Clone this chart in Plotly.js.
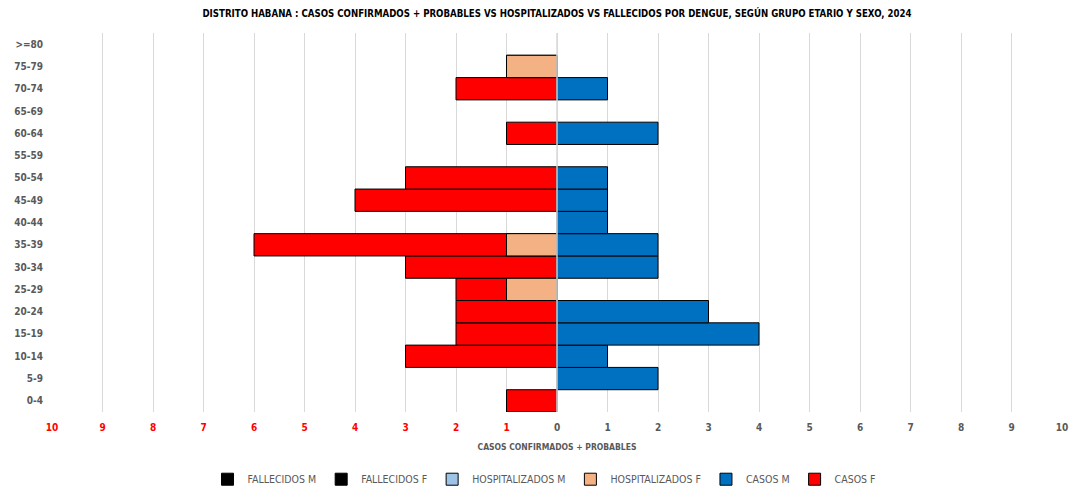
<!DOCTYPE html>
<html>
<head>
<meta charset="utf-8">
<script src="https://cdn.plot.ly/plotly-3.0.1.min.js"></script>
<style>html,body{margin:0;padding:0;background:#fff;}#chart{width:1089px;height:488px;}</style>
</head>
<body>
<div id="chart"></div>
<script>
const ageGroups = ["0-4","5-9","10-14","15-19","20-24","25-29","30-34","35-39","40-44","45-49","50-54","55-59","60-64","65-69","70-74","75-79",">=80"];
const casosF = [1,0,3,2,2,2,3,6,0,4,3,0,1,0,2,1,0];
const casosM = [0,2,1,4,3,0,2,2,1,1,1,0,2,0,1,0,0];
const hospF  = [0,0,0,0,0,1,0,1,0,0,0,0,0,0,0,1,0];
const hospM  = [0,0,0,0,0,0,0,0,0,0,0,0,0,0,0,0,0];
const fallF  = [0,0,0,0,0,0,0,0,0,0,0,0,0,0,0,0,0];
const fallM  = [0,0,0,0,0,0,0,0,0,0,0,0,0,0,0,0,0];
const tickValues = [-10,-9,-8,-7,-6,-5,-4,-3,-2,-1,0,1,2,3,4,5,6,7,8,9,10];

const FONT = '"DejaVu Sans Condensed", "Liberation Sans Narrow", "Arial Narrow", sans-serif';
const neg = a => a.map(v => v === 0 ? null : -v);
const pos = a => a.map(v => v === 0 ? null : v);
const line = {color:'#000000', width:1};

function tr(name, x, color){
  return {type:'bar', orientation:'h', name:name, y:ageGroups, x:x,
    marker:{color:color, line:line}, width:1, hoverinfo:'x+y+name'};
}
const traces = [
  tr('CASOS F', neg(casosF), '#FF0000'),
  tr('CASOS M', pos(casosM), '#0070C0'),
  tr('HOSPITALIZADOS F', neg(hospF), '#F4B183'),
  tr('HOSPITALIZADOS M', pos(hospM), '#9DC3E6'),
  tr('FALLECIDOS F', neg(fallF), '#000000'),
  tr('FALLECIDOS M', pos(fallM), '#000000')
];

const tickText = tickValues.map(v => v < 0 ? '<span style="fill:#FF0000">' + Math.abs(v) + '</span>' : String(v));

const layout = {
  width:1089, height:488,
  margin:{l:52, r:27, t:33, b:76, autoexpand:false},
  paper_bgcolor:'#ffffff', plot_bgcolor:'#ffffff',
  barmode:'overlay', bargap:0,
  font:{family:FONT, color:'#595959', size:10},
  title:{text:'<b>DISTRITO HABANA : CASOS CONFIRMADOS + PROBABLES VS HOSPITALIZADOS VS FALLECIDOS POR DENGUE, SEGÚN GRUPO ETARIO Y SEXO, 2024</b>',
    font:{family:FONT, size:9.6, color:'#000000'}, x:0.5, xanchor:'center', xref:'paper', y:0.973, yanchor:'middle'},
  xaxis:{range:[-10,10], tickmode:'array', tickvals:tickValues, ticktext:tickText, automargin:false,
    showgrid:true, gridcolor:'#d9d9d9', gridwidth:1, zeroline:false, showline:false,
    ticks:'', ticklabelstandoff:8, tickfont:{family:FONT, size:10, color:'#595959', weight:'bold'},
    title:{text:'<b>CASOS CONFIRMADOS + PROBABLES</b>', font:{family:FONT, size:8.5, color:'#595959'}, standoff:12},
    fixedrange:true},
  yaxis:{type:'category', categoryorder:'array', categoryarray:ageGroups, range:[-0.5,16.5], automargin:false,
    showgrid:false, zeroline:false, showline:false, ticks:'', ticklabelstandoff:8,
    tickfont:{family:FONT, size:10, color:'#595959', weight:'bold'}, fixedrange:true},
  legend:{orientation:'h', x:0.5, xanchor:'center', xref:'container', y:0.018, yref:'container', yanchor:'middle', traceorder:'reversed',
    font:{family:FONT, size:10.5, color:'#595959'}, itemwidth:30, tracegroupgap:0},
  shapes:[{type:'line', xref:'x', yref:'paper', x0:0, x1:0, y0:0, y1:1, line:{color:'#d9d9d9', width:1.5}, layer:'above'}],
  showlegend:true
};
Plotly.newPlot('chart', traces, layout, {displayModeBar:false, staticPlot:true});
</script>
</body>
</html>
